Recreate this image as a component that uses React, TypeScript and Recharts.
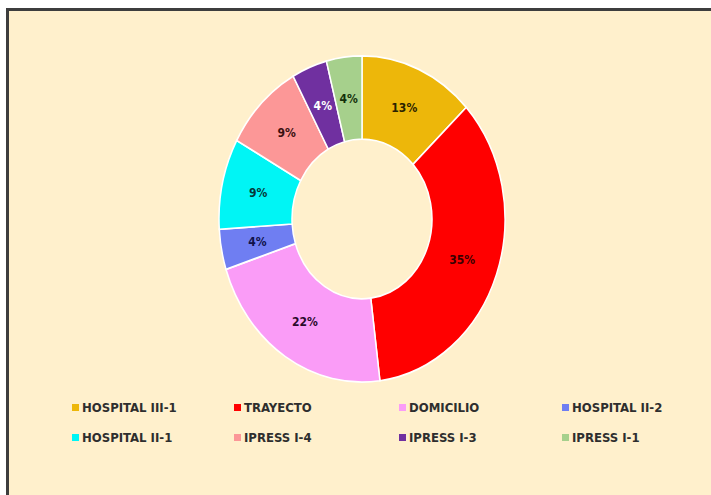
import React from 'react';
import { PieChart, Pie, Cell, Legend } from 'recharts';

const categories = [
  'HOSPITAL III-1',
  'TRAYECTO',
  'DOMICILIO',
  'HOSPITAL II-2',
  'HOSPITAL II-1',
  'IPRESS I-4',
  'IPRESS I-3',
  'IPRESS I-1',
];
const percents = [13, 35, 22, 4, 9, 9, 4, 4];
const colors = ['#EDB70A', '#FF0000', '#FA9CF7', '#6F7EF2', '#00F5F5', '#FC9797', '#7030A0', '#A6D08C'];
const labelColors = ['#2a2200', '#3a0000', '#2a0a2a', '#10124a', '#063838', '#3a1010', '#ffffff', '#13300a'];

const data = categories.map((name, i) => ({ name, value: percents[i] }));

const RADIAN = Math.PI / 180;
const SCALE_Y = 1.14;
const FONT = '"Liberation Sans Narrow", "DejaVu Sans Condensed", "Open Sans", sans-serif';

const renderLabel = ({ cx, cy, midAngle, innerRadius, outerRadius, value, index }: any) => {
  const r = (innerRadius + outerRadius) / 2;
  const x = cx + r * Math.cos(-midAngle * RADIAN);
  const y = cy + r * Math.sin(-midAngle * RADIAN) * SCALE_Y;
  return (
    <text
      x={x}
      y={y}
      fill={labelColors[index]}
      textAnchor="middle"
      dominantBaseline="central"
      fontSize={12}
      fontWeight="bold"
      fontFamily={FONT}
    >
      {value}%
    </text>
  );
};

const colLeft = [72, 234, 399, 562];
const rowTop = [400, 430];

const renderLegend = (props: any) => {
  const payload = props.payload || [];
  return (
    <div style={{ position: 'relative', width: 711, height: 60 }}>
      {categories.map((name, i) => {
        const entry = payload.find((p: any) => p.value === name);
        const color = entry?.color || colors[i];
        return (
          <div
            key={name}
            style={{
              position: 'absolute',
              left: colLeft[i % 4],
              top: rowTop[Math.floor(i / 4)] - 400,
              display: 'flex',
              alignItems: 'center',
              height: 14,
              fontFamily: FONT,
              fontWeight: 'bold',
              fontSize: 13,
              color: '#2e2e2e',
              whiteSpace: 'nowrap',
            }}
          >
            <span style={{ width: 7, height: 7, background: color, marginRight: 3, display: 'inline-block' }} />
            {name}
          </div>
        );
      })}
    </div>
  );
};

export default function App() {
  return (
    <div style={{ position: 'fixed', left: 0, top: 0, width: 711, height: 495, background: '#fff', overflow: 'hidden' }}>
      <style>{`.donut .recharts-pie { transform: scaleY(${SCALE_Y}); transform-origin: 362px 219px; }`}</style>
      <div
        style={{
          position: 'absolute',
          left: 6,
          top: 8,
          width: 900,
          height: 700,
          background: '#FFF0CC',
          borderLeft: '3px solid #3d3d3d',
          borderTop: '3px solid #3d3d3d',
          boxSizing: 'border-box',
        }}
      />
      <div className="donut" style={{ position: 'absolute', left: 0, top: 0 }}>
        <PieChart width={711} height={495} margin={{ top: 0, right: 0, bottom: 0, left: 0 }}>
          <Pie
            data={data}
            dataKey="value"
            nameKey="name"
            cx={362}
            cy={219}
            innerRadius={70}
            outerRadius={143}
            startAngle={90}
            endAngle={-270}
            stroke="#ffffff"
            strokeWidth={1.5}
            label={renderLabel}
            labelLine={false}
            isAnimationActive={false}
          >
            {data.map((d, i) => (
              <Cell key={d.name} fill={colors[i]} />
            ))}
          </Pie>
          <Legend
            content={renderLegend}
            wrapperStyle={{ position: 'absolute', left: 0, top: 400, width: 711, height: 60 }}
          />
        </PieChart>
      </div>
    </div>
  );
}
